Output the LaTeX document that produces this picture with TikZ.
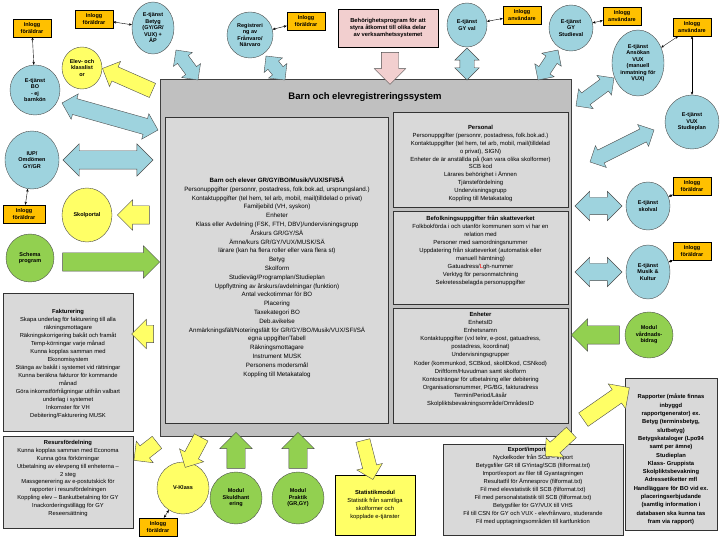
\documentclass[tikz,border=0pt]{standalone}
\usepackage{fontspec}
\setmainfont{Liberation Sans}
\usetikzlibrary{shapes.geometric,shapes.arrows,calc,arrows.meta}
\definecolor{cblue}{RGB}{158,211,222}
\definecolor{cyel}{RGB}{255,255,102}
\definecolor{cgreen}{RGB}{146,208,80}
\definecolor{corange}{RGB}{255,192,0}
\definecolor{cpink}{RGB}{242,207,207}
\definecolor{cgrayA}{RGB}{192,192,192}
\definecolor{cgrayB}{RGB}{217,217,217}
\newcommand\barr[4]{\path let \p1=#2,\p2=#3,\n1={atan2(\y2-\y1,\x2-\x1)},\n2={veclen(\x2-\x1,\y2-\y1)} in node[#1,rotate=\n1,minimum height=\n2] at ($#2!0.5!#3$) {\rule{0pt}{#4pt}};}
\begin{document}
\begin{tikzpicture}[x=1pt,y=-1pt,
  circ/.style={ellipse,draw=gray!60!black,fill=cblue,inner sep=0,font=\bfseries\fontsize{5.5}{6.5}\selectfont,align=center},
  ilog/.style={draw,fill=corange,font=\bfseries\fontsize{5.5}{6.5}\selectfont,align=center,minimum width=38,minimum height=18,inner sep=1},
  txt/.style={font=\fontsize{6}{8}\selectfont,align=center,inner sep=0},
  panel/.style={draw=black!80,fill=cgrayB,line width=0.8pt},
  dbl/.style={double arrow,draw=gray!60!black,fill=cblue,double arrow head extend=5,inner sep=0},
  sgl/.style={single arrow,draw=gray!60!black,single arrow head extend=6,inner sep=0},
  ya/.style={sgl,fill=cyel},
  ga/.style={sgl,fill=cgreen},
  con/.style={<->,>={Stealth[length=3pt,width=2.5pt]},thin}]
\useasboundingbox (0,0) rectangle (721,540);
% main box
\draw[fill=cgrayA,draw=gray!50!black,line width=1pt] (160,80) rectangle (571,436);
\node[font=\bfseries\fontsize{9.5}{11}\selectfont] (title) at (365,97) {Barn och elevregistreringssystem};
\draw[panel] (165,117) rectangle (388,423);
\node[txt,anchor=north,font=\fontsize{6.2}{8.8}\selectfont] (barn) at (277,177) {\textbf{Barn och elever GR/GY/BO/Musik/VUX/SFI/SÄ}\\
Personuppgifter (personnr, postadress, folk.bok.ad, ursprungsland.)\\
Kontaktuppgifter (tel hem, tel arb, mobil, mail(tilldelad o privat)\\
Familjebild (VH, syskon)\\ Enheter\\
Klass eller Avdelning (FSK, FTH, DBV)/undervisningsgrupp\\
Årskurs GR/GY/SÄ\\ Ämne/kurs GR/GY/VUX/MUSK/SÄ\\
lärare (kan ha flera roller eller vara flera st)\\ Betyg\\ Skolform\\
Studieväg/Programplan/Studieplan\\
Uppflyttning av årskurs/avdelningar (funktion)\\
Antal veckotimmar för BO\\ Placering\\ Taxekategori BO\\ Deb.avikelse\\
Anmärkningsfält/Noteringsfält för GR/GY/BO/Musik/VUX/SFI/SÄ\\
egna uppgifter/Tabell\\ Räkningsmottagare\\ Instrument MUSK\\
Personens modersmål\\ Koppling till Metakatalog};
\draw[panel] (393,112) rectangle (568,207);
\node[txt,anchor=north,font=\fontsize{5.9}{7.9}\selectfont] (pers) at (480.5,125) {\textbf{Personal}\\
Personuppgifter (personnr, postadress, folk.bok.ad.)\\
Kontaktuppgifter (tel hem, tel arb, mobil, mail(tilldelad\\ o privat), SIGN)\\
Enheter de är anställda på (kan vara olika skolformer)\\ SCB kod\\
Lärares behörighet i Ämnen\\ Tjänstefördelning\\ Undervisningsgrupp\\ Koppling till Metakatalog};
\draw[panel] (393,211) rectangle (568,304);
\node[txt,anchor=north,font=\fontsize{5.9}{8}\selectfont] (befolk) at (480.5,215) {\textbf{Befolkningsuppgifter från skatteverket}\\
Folkbokförda i och utanför kommunen som vi har en\\ relation med\\
Personer med samordningsnummer\\
Uppdatering från skatteverket (automatisk eller\\ manuell hämtning)\\
Gatuadress/\textcolor{red}{L}gh-nummer\\ Verktyg för personmatchning\\ Sekretessbelagda personuppgifter};
\draw[panel] (393,308) rectangle (568,423);
\node[txt,anchor=north,font=\fontsize{5.9}{8.1}\selectfont] (enh) at (480.5,312) {\textbf{Enheter}\\ EnhetsID\\ Enhetsnamn\\
Kontaktuppgifter (vxl telnr, e-post, gatuadress,\\ postadress, koordinat)\\
Undervisningsgrupper\\ Koder (kommunkod, SCBkod, skolIDkod, CSNkod)\\
Driftform/Huvudman samt skolform\\ Kontosträngar för utbetalning eller debitering\\
Organisationsnummer, PG/BG, fakturadress\\ Termin/Period/Läsår\\ Skolpliktsbevakningsområde/OmrådesID};
% left panels
\draw[panel,line width=0.6pt] (3,293) rectangle (133,431);
\node[txt,anchor=north,font=\fontsize{5.8}{8}\selectfont] (fakt) at (68,309) {\textbf{Fakturering}\\ Skapa underlag för fakturering till alla\\ räkningsmottagare\\
Räkningskorrigering bakåt och framåt\\ Temp-körningar varje månad\\ Kunna kopplas samman med\\ Ekonomisystem\\
Stänga av bakåt i systemet vid rättningar\\ Kunna beräkna fakturor för kommande\\ månad\\
Göra inkomstförfrågningar utifrån valbart\\ underlag i systemet\\ Inkomster för VH\\ Debitering/Fakturering MUSK};
\draw[panel,line width=0.6pt] (3,436) rectangle (133,528);
\node[txt,anchor=north,font=\fontsize{5.8}{7.9}\selectfont] (resurs) at (68,440) {\textbf{Resursfördelning}\\ Kunna kopplas samman med Economa\\ Kunna göra förkörningar\\
Utbetalning av elevpeng till enheterna --\\ 2 steg\\ Massgenerering av e-postutskick för\\ rapporter i resursfördelningen\\
Koppling elev -- Bankutbetalning för GY\\ Inackorderingstillägg för GY\\ Reseersättning};
% right panels
\draw[panel,line width=0.6pt] (625,378) rectangle (717,530);
\node[txt,anchor=north,font=\bfseries\fontsize{5.8}{8.3}\selectfont] (rapp) at (671,394) {Rapporter (måste finnas\\ inbyggd\\ rapportgenerator) ex.\\ Betyg (terminsbetyg,\\ slutbetyg)\\
Betygskataloger (Lpo94\\ samt per ämne)\\ Studieplan\\ Klass- Gruppista\\ Skolpliktsbevakning\\ Adressetiketter mfl\\
Handläggare för BO vid ex.\\ placeringserbjudande\\ (samtlig information i\\ databasen ska kunna tas\\ fram via rapport)};
\draw[panel,line width=0.6pt] (443,444) rectangle (623,535);
\node[txt,anchor=north,font=\fontsize{5.8}{8}\selectfont] (exp) at (533,447) {\textbf{Export/import filer}\\ Nyckelkoder från SCB -- Import\\
Betygsfiler GR till GYintag/SCB (filformat.txt)\\ Import/export av filer till Gyantagningen\\ Resultatfil för Ämnesprov (filformat.txt)\\
Fil med elevstatistik till SCB (filformat.txt)\\ Fil med personalstatistik till SCB (filformat.txt)\\ Betygsfiler för GY/VUX till VHS\\
Fil till CSN för GY och VUX - elevfrånvaro, studerande\\ Fil med upptagningsområden till kartfunktion};
\node[draw,fill=cyel,minimum width=80,minimum height=60,align=center,font=\fontsize{5.8}{8}\selectfont,inner sep=1] (stat) at (375,505) {\textbf{Statistikmodul}\\ Statistik från samtliga\\ skolformer och\\ kopplade e-tjänster};
\node[draw,fill=cpink,minimum width=100,minimum height=38,align=center,font=\bfseries\fontsize{5.8}{7}\selectfont,inner sep=1] (beh) at (388,28) {Behörighetsprogram för att\\ styra åtkomst till olika delar\\ av verksamhetssystemet};
% circles
\node[circ,minimum width=50,minimum height=50] (bo) at (35,90) {E-tjänst\\ BO\\ - ej\\ barnkön};
\node[ilog] (i1) at (32,28) {Inlogg\\ föräldrar};
\node[circ,minimum width=42,minimum height=52] (bet) at (153,28) {E-tjänst\\ Betyg\\ (GY/GR/\\ VUX) +\\ ÄP};
\node[ilog] (i2) at (94,19) {Inlogg\\ föräldrar};
\node[circ,fill=cyel,minimum width=40,minimum height=42] (elev) at (82,68) {Elev- och\\ klasslist\\ or};
\node[circ,minimum width=46,minimum height=46] (reg) at (250,35) {Registreri\\ ng av\\ Frånvaro/\\ Närvaro};
\node[ilog] (i3) at (306,21) {Inlogg\\ föräldrar};
\node[circ,minimum width=40,minimum height=44] (gyval) at (467,25) {E-tjänst\\ GY val};
\node[ilog] (i4) at (522,15) {Inlogg\\ användare};
\node[circ,minimum width=44,minimum height=46] (stv) at (571,28) {E-tjänst\\ GY\\ Studieval};
\node[ilog] (i5) at (622,16) {Inlogg\\ användare};
\node[circ,minimum width=52,minimum height=66] (ans) at (638,63) {E-tjänst\\ Ansökan\\ VUX\\ (manuell\\ inmatning för\\ VUX)};
\node[ilog] (i6) at (692,27) {Inlogg\\ användare};
\node[circ,minimum width=54,minimum height=54] (stp) at (692,122) {E-tjänst\\ VUX\\ Studieplan};
\node[circ,minimum width=44,minimum height=48] (skv) at (648,206) {E-tjänst\\ skolval};
\node[ilog] (i7) at (692,186) {Inlogg\\ föräldrar};
\node[circ,minimum width=44,minimum height=54] (mus) at (648,272) {E-tjänst\\ Musik \&\\ Kultur};
\node[ilog] (i8) at (692,251) {Inlogg\\ föräldrar};
\node[circ,fill=cgreen,minimum width=48,minimum height=46] (vard) at (649,335) {Modul\\ vårdnads-\\ bidrag};
\node[circ,minimum width=54,minimum height=58] (iup) at (32,160) {IUP/\\ Omdömen\\ GY/GR};
\node[ilog,minimum width=42] (i9) at (24,214) {Inlogg\\ föräldrar};
\node[circ,fill=cyel,minimum width=50,minimum height=54] (skp) at (87,215) {Skolportal};
\node[circ,fill=cgreen,minimum width=48,minimum height=48] (sch) at (30,258) {Schema\\ program};
\node[circ,fill=cyel,minimum width=52,minimum height=52] (vk) at (183,488) {V-Klass};
\node[ilog] (i10) at (158,527) {Inlogg\\ föräldrar};
\node[circ,fill=cgreen,minimum width=52,minimum height=52] (sk) at (236,498) {Modul\\ Skuldhant\\ ering};
\node[circ,fill=cgreen,minimum width=52,minimum height=52] (pr) at (298,498) {Modul\\ Praktik\\ (GR,GY)};
% connectors
\draw[con] (i1) -- (bo);
\draw[con] (i2) -- (bet);
\draw[con] (i3) -- (reg);
\draw[con] (i4) -- (gyval);
\draw[con] (i5) -- (stv);
\draw[con] (i6) -- (ans);
\draw[con] (i6) -- (stp);
\draw[con] (i7) -- (skv);
\draw[con] (i8) -- (mus);
\draw[con] (i9) -- (iup);
\draw[con] (i10) -- (vk);
% block arrows
\barr{dbl}{(62,103)}{(158,130)}{16}
\barr{dbl}{(176,50)}{(198,80)}{13}
\barr{dbl}{(266,56)}{(285,80)}{13}
\barr{ya}{(156,92)}{(106,70)}{15}
\barr{sgl,fill=cpink,single arrow head extend=7}{(390,48)}{(390,80)}{17}
\barr{dbl}{(467,48)}{(467,80)}{14}
\barr{dbl}{(538,80)}{(558,50)}{13}
\barr{dbl}{(576,106)}{(614,78)}{14}
\barr{dbl}{(590,162)}{(654,130)}{14}
\barr{dbl,double arrow head extend=6}{(575,206)}{(622,206)}{17}
\barr{dbl,double arrow head extend=6}{(575,272)}{(622,272)}{17}
\barr{ga,single arrow head extend=7}{(624,335)}{(576,335)}{18}
\barr{ya,single arrow head extend=7}{(580,422)}{(626,390)}{16}
\barr{ya}{(574,430)}{(548,454)}{14}
\barr{ya}{(362,437)}{(372,476)}{14}
\barr{ya}{(203,434)}{(187,464)}{15}
\barr{ga,single arrow head extend=7}{(236,473)}{(236,437)}{18}
\barr{ga,single arrow head extend=7}{(298,473)}{(298,437)}{18}
\barr{dbl,double arrow head extend=7}{(63,160)}{(153,160)}{18}
\barr{ya,single arrow head extend=6}{(154,215)}{(122,215)}{18}
\barr{ga,single arrow head extend=7}{(58,262)}{(155,262)}{18}
\barr{ya,single arrow head extend=6}{(158,334)}{(136,334)}{17}
\barr{ya}{(160,440)}{(137,458)}{15}
\end{tikzpicture}
\end{document}
